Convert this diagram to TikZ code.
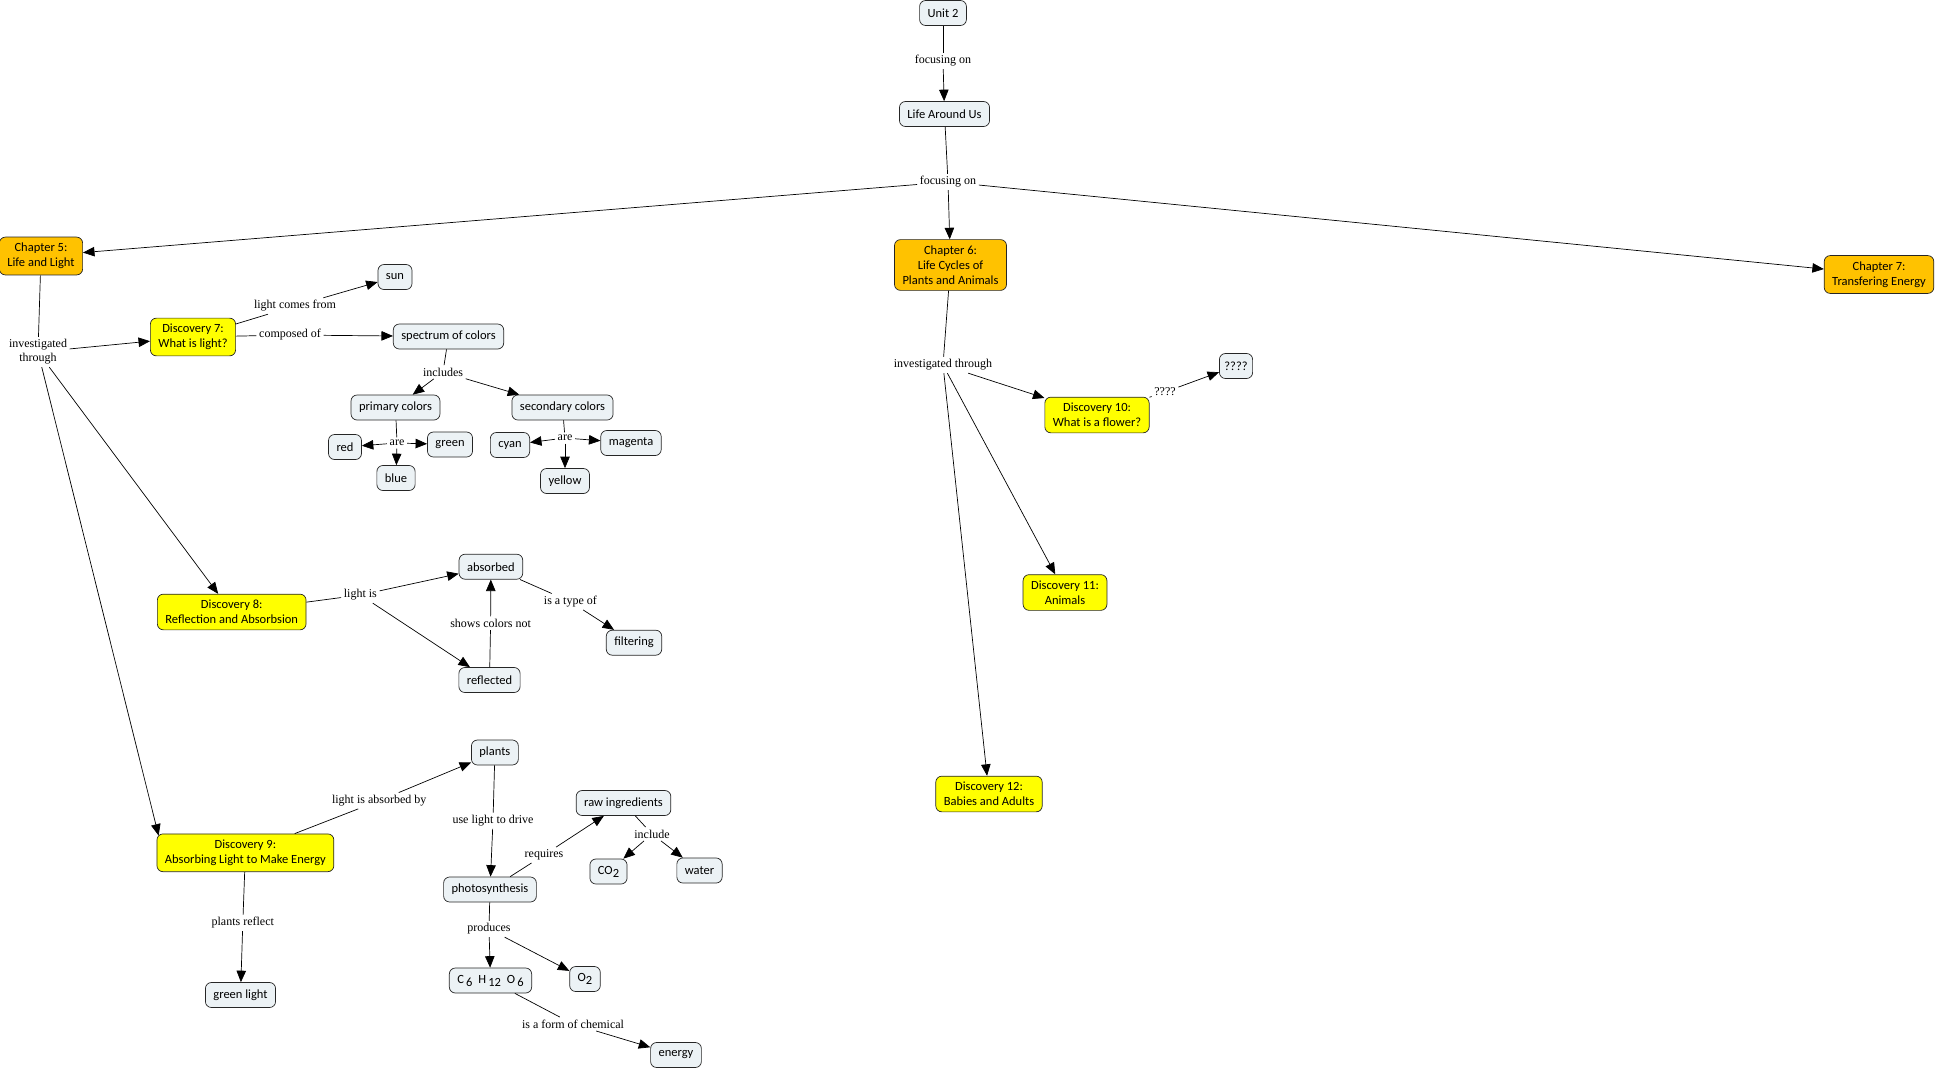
\documentclass[tikz,border=0pt]{standalone}
\usepackage{fontspec}
\setmainfont{Liberation Serif}
\newfontfamily\nodefont{Carlito}
\usetikzlibrary{arrows.meta}
\definecolor{conceptfill}{RGB}{236,242,245}
\definecolor{chapfill}{RGB}{255,194,0}
\definecolor{discfill}{RGB}{255,255,0}
\newcommand{\sbs}[1]{\raisebox{-0.5ex}{#1}}
\begin{document}
\begin{tikzpicture}[x=1pt,y=-1pt,
  concept/.style={draw=black!85, rounded corners=6pt, fill=conceptfill, font=\nodefont\fontsize{12.5}{15}\selectfont, align=center, inner xsep=8pt, inner ysep=6pt, minimum height=25pt, line width=0.7pt},
  chap/.style={concept, fill=chapfill},
  disc/.style={concept, fill=discfill},
  lab/.style={font=\fontsize{12}{14}\selectfont, inner sep=2.5pt, align=center},
  arr/.style={-{Triangle[length=11.5pt,width=9.5pt]}, line width=0.7pt},
  ln/.style={line width=0.7pt}]
\useasboundingbox (0,0) rectangle (1935,1069);

% top
\node[concept] (unit) at (943,13) {Unit 2};
\node[concept] (life) at (944.5,114) {Life Around Us};
\node[lab] (f1) at (943,61) {focusing on};
\node[lab] (f2) at (948,182) {focusing on};
\node[chap] (ch5) at (41,256) {Chapter 5:\\Life and Light};
\node[chap] (ch6) at (950.5,265) {Chapter 6:\\Life Cycles of\\Plants and Animals};
\node[chap] (ch7) at (1879,274.5) {Chapter 7:\\Transfering Energy};

\draw[ln] (unit) -- (f1);
\draw[arr] (f1) -- (life);
\draw[ln] (life) -- (f2);
\draw[arr] (f2) -- (ch5);
\draw[arr] (f2) -- (ch6);
\draw[arr] (f2) -- (ch7);

% chapter 5
\node[lab] (inv5) at (38,352) {investigated\\through};
\node[disc] (d7) at (193,337) {Discovery 7:\\What is light?};
\node[disc] (d8) at (231.7,612) {Discovery 8:\\Reflection and Absorbsion};
\node[disc] (d9) at (245.4,852.8) {Discovery 9:\\Absorbing Light to Make Energy};
\coordinate (d9in) at ([xshift=2pt,yshift=-2pt]d9.north west);
\draw[ln] (ch5) -- (inv5);
\draw[arr] (inv5) -- (d7);
\draw[arr] (inv5) -- (d8);
\draw[arr] (inv5) -- (d9in);

% discovery 7
\node[lab] (lcf) at (295,306) {light comes from};
\node[concept] (sun) at (395,277) {sun};
\node[lab] (comp) at (290,335) {composed of};
\node[concept] (spec) at (448.5,336.5) {spectrum of colors};
\draw[ln] (d7) -- (lcf);
\draw[arr] (lcf) -- (sun);
\draw[ln] (d7) -- (comp);
\draw[arr] (comp) -- (spec);

\node[lab] (incl) at (443,372) {includes};
\node[concept] (prim) at (395.5,407.5) {primary colors};
\node[concept] (sec) at (562.5,407.5) {secondary colors};
\draw[ln] (spec) -- (incl);
\draw[arr] (incl) -- (prim);
\draw[arr] (incl) -- (sec);

\node[lab] (are1) at (397,443) {are};
\node[concept] (red) at (345,447) {red};
\node[concept] (green) at (450,444.5) {green};
\node[concept] (blue) at (396,478) {blue};
\draw[ln] (prim) -- (are1);
\draw[arr] (are1) -- (red);
\draw[arr] (are1) -- (green);
\draw[arr] (are1) -- (blue);

\node[lab] (are2) at (565,438) {are};
\node[concept] (cyan) at (510,445) {cyan};
\node[concept] (mag) at (631,443) {magenta};
\node[concept] (yel) at (565,481) {yellow};
\draw[ln] (sec) -- (are2);
\draw[arr] (are2) -- (cyan);
\draw[arr] (are2) -- (mag);
\draw[arr] (are2) -- (yel);

% discovery 8
\node[lab] (lis) at (360.4,595) {light is};
\node[concept] (abs) at (490.9,566.7) {absorbed};
\node[concept] (refl) at (489.5,680) {reflected};
\node[lab] (scn) at (490.6,623.3) {shows colors not};
\node[lab] (iato) at (570.4,601.7) {is a type of};
\node[concept] (filt) at (634,642.7) {filtering};
\draw[ln] (d8) -- (lis);
\draw[arr] (lis) -- (abs);
\draw[arr] (lis) -- (refl);
\draw[ln] (refl) -- (scn);
\draw[arr] (scn) -- (abs);
\draw[ln] (abs) -- (iato);
\draw[arr] (iato) -- (filt);

% discovery 9
\node[lab] (liab) at (379.2,800.7) {light is absorbed by};
\node[concept] (plants) at (494.9,752.5) {plants};
\node[lab] (ultd) at (493,820.7) {use light to drive};
\node[concept] (photo) at (490,889.5) {photosynthesis};
\node[lab] (req) at (544,855) {requires};
\node[concept] (raw) at (623.5,803) {raw ingredients};
\node[lab] (incl2) at (652,834) {include};
\node[concept] (co2) at (608.5,871.5) {CO\sbs{2}};
\node[concept] (water) at (699.5,870.5) {water};
\node[lab] (prod) at (489,929) {produces};
\node[concept] (c6) at (490.5,980.5) {C\,\sbs{6}\hspace{6pt}H\,\sbs{12}\hspace{6pt}O\,\sbs{6}};
\node[concept] (o2) at (585,979) {O\sbs{2}};
\node[lab] (ifoc) at (573,1024) {is a form of chemical};
\node[concept] (energy) at (676,1055) {energy};
\node[lab] (pr) at (242.8,923) {plants reflect};
\node[concept] (gl) at (240.5,995) {green light};

\draw[ln] (d9) -- (liab);
\draw[arr] (liab) -- (plants);
\draw[ln] (plants) -- (ultd);
\draw[arr] (ultd) -- (photo);
\draw[ln] (photo) -- (req);
\draw[arr] (req) -- (raw);
\draw[ln] (raw) -- (incl2);
\draw[arr] (incl2) -- (co2);
\draw[arr] (incl2) -- (water);
\draw[ln] (photo) -- (prod);
\draw[arr] (prod) -- (c6);
\draw[arr] (prod) -- (o2);
\draw[ln] (c6) -- (ifoc);
\draw[arr] (ifoc) -- (energy);
\draw[ln] (d9) -- (pr);
\draw[arr] (pr) -- (gl);

% chapter 6
\node[lab] (inv6) at (943,365) {investigated through};
\node[disc] (d10) at (1097,415) {Discovery 10:\\What is a flower?};
\node[lab] (q) at (1165,392) {????};
\node[concept, inner xsep=5pt] (qn) at (1236,366) {????};
\node[disc] (d11) at (1065,592.5) {Discovery 11:\\Animals};
\node[disc] (d12) at (989,794) {Discovery 12:\\Babies and Adults};
\draw[ln] (ch6) -- (inv6);
\draw[arr] (inv6) -- (d10);
\draw[arr] (inv6) -- (d11);
\draw[arr] (inv6) -- (d12);
\draw[ln] (d10) -- (q);
\draw[arr] (q) -- (qn);
\end{tikzpicture}
\end{document}
